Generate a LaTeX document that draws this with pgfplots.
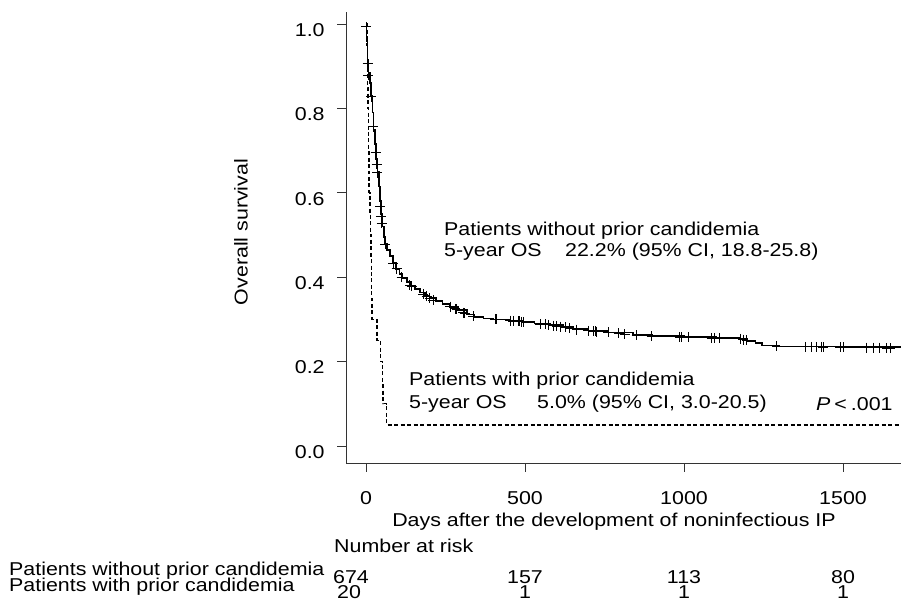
\documentclass[border=0pt]{standalone}
\usepackage{fontspec}
\setmainfont{Liberation Sans}[FakeStretch=1.15]
\usepackage{pgfplots}
\pgfplotsset{compat=1.18}
\pgfplotstableread{
day surv
0 1.000
2 0.960
5 0.915
8 0.885
12 0.860
16 0.830
20 0.790
24 0.750
28 0.715
32 0.680
36 0.650
40 0.615
44 0.580
48 0.550
52 0.520
56 0.495
60 0.478
66 0.465
75 0.450
85 0.434
95 0.420
105 0.408
115 0.398
128 0.388
140 0.380
155 0.372
170 0.364
185 0.357
200 0.350
220 0.343
240 0.337
264 0.330
290 0.322
318 0.312
340 0.306
370 0.302
400 0.300
450 0.297
494 0.294
530 0.290
580 0.286
620 0.282
651 0.277
700 0.273
760 0.269
840 0.263
900 0.260
1000 0.258
1100 0.256
1175 0.254
1200 0.249
1225 0.244
1245 0.238
1300 0.236
1500 0.234
1682 0.232
}\without
\pgfplotstableread{
day surv
0 0.993
5 0.907
7 0.879
16 0.828
22 0.756
30 0.695
33 0.668
35 0.647
45 0.567
47 0.543
49 0.528
60 0.478
86 0.432
96 0.420
112 0.400
138 0.381
144 0.378
180 0.359
191 0.355
201 0.350
212 0.346
264 0.330
280 0.325
285 0.324
306 0.316
311 0.314
337 0.307
406 0.300
411 0.300
453 0.297
463 0.296
479 0.295
484 0.295
490 0.294
494 0.294
547 0.289
563 0.288
573 0.287
589 0.285
600 0.284
610 0.283
626 0.281
641 0.279
662 0.276
699 0.273
715 0.272
720 0.272
725 0.271
762 0.269
794 0.267
814 0.265
851 0.263
898 0.260
987 0.258
993 0.258
1013 0.258
1087 0.256
1097 0.256
1113 0.256
1176 0.254
1186 0.252
1197 0.250
1292 0.236
1381 0.235
1402 0.235
1417 0.235
1433 0.235
1438 0.234
1491 0.234
1501 0.234
1575 0.233
1595 0.233
1616 0.233
1638 0.232
1648 0.232
}\censor
\pgfplotstableread{
day surv
0 1.00
3 0.95
4 0.90
5 0.85
6 0.80
7 0.75
8 0.70
9 0.65
10 0.60
12 0.55
14 0.50
16 0.45
17 0.40
18 0.35
19 0.30
34 0.25
45 0.20
52 0.15
53 0.10
65 0.05
1682 0.05
}\withc
\begin{document}
\fontsize{18.6}{22}\selectfont
\begin{tikzpicture}[x=1pt,y=1pt]
\useasboundingbox (0,0) rectangle (901,602);
\begin{axis}[at={(346pt,139pt)}, anchor=south west, scale only axis,
  width=555pt, height=451pt,
  xmin=-62.9, xmax=1682.4, ymin=-0.0403, ymax=1.0284,
  axis lines=left, axis line style={-, black!80, line width=0.9pt},
  tick align=outside, major tick length=9pt,
  tick style={black!80, line width=0.9pt},
  xtick={0,500,1000,1500}, xticklabels={0,500,1000,1500},
  ytick={0,0.2,0.4,0.6,0.8,1.0},
  yticklabels={0.0,0.2,0.4,0.6,0.8,1.0},
  xticklabel style={font=\fontsize{18.6}{22}\selectfont, text=black, yshift=-13pt},
  yticklabel style={font=\fontsize{18.6}{22}\selectfont, text=black, yshift=-6pt, xshift=-6pt},
  clip=false]
\addplot[const plot, black, line width=1.6pt] table[x=day,y=surv] {\without};
\addplot[only marks, mark=+, mark size=5pt, black, mark options={line width=0.9pt}] table[x=day,y=surv] {\censor};
\addplot[const plot, black, line width=1.4pt, dash pattern=on 4pt off 2.5pt] table[x=day,y=surv] {\withc};
\end{axis}
\begin{scope}[every node/.style={inner sep=0pt, text=black, font=\fontsize{18.6}{22}\selectfont}]
\node[rotate=90] at (241,370) {Overall survival};
\node[anchor=west] at (444,371) {Patients without prior candidemia};
\node[anchor=west] at (444,350) {5-year OS};
\node[anchor=west] at (565,350) {22.2\% (95\% CI, 18.8-25.8)};
\node[anchor=west] at (409,221) {Patients with prior candidemia};
\node[anchor=west] at (409,198) {5-year OS};
\node[anchor=west] at (537,198) {5.0\% (95\% CI, 3.0-20.5)};
\node[anchor=west] at (816,198) {\textit{P}\kern4pt\textless\kern4pt.001};
\node at (614,80) {Days after the development of noninfectious IP};
\node[anchor=west] at (334,56) {Number at risk};
\node[anchor=west] at (9,31) {Patients without prior candidemia};
\node[anchor=west] at (9,15) {Patients with prior candidemia};
\node at (351,25) {674};
\node at (525,25) {157};
\node at (684,25) {113};
\node at (843,25) {80};
\node at (349,9.5) {20};
\node at (525,9.5) {1};
\node at (684,9.5) {1};
\node at (843,9.5) {1};
\end{scope}
\end{tikzpicture}
\end{document}
